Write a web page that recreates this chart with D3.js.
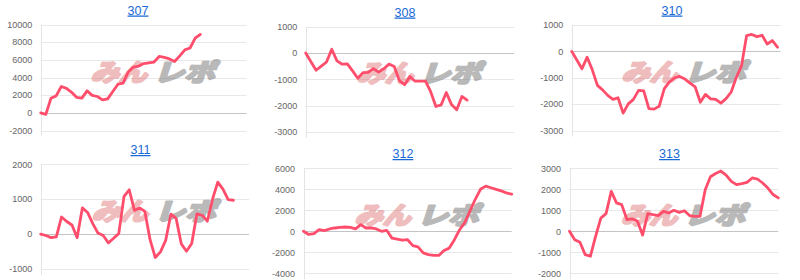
<!DOCTYPE html>
<html><head><meta charset="utf-8">
<script src="https://cdn.jsdelivr.net/npm/d3@7/dist/d3.min.js"></script>
<style>body{margin:0;background:#fff}svg{display:block}</style>
</head><body>
<svg id="chart" width="800" height="280"></svg>
<script>
// ---- data ----
const titles = ["307", "308", "310", "311", "312", "313"];

const s307 = [0, -170, 1660, 1920, 2980, 2770, 2320, 1740, 1660, 2490, 1980, 1850, 1470, 1580, 2410, 3240,
  3360, 4620, 5180, 5280, 5580, 5660, 5750, 6380, 6280, 6100, 5810, 6450, 7130, 7340, 8450, 8880];
const s308 = [0, -330, -655, -500, -340, 145, -300, -425, -415, -680, -960, -745, -735, -590, -725, -595,
  -420, -510, -1050, -1205, -890, -1070, -1070, -1070, -1470, -2030, -1975, -1500, -1960, -2155, -1650, -1790];
const s310 = [0, -330, -660, -220, -700, -1290, -1460, -1670, -1820, -1760, -2340, -1990, -1820, -1480, -1500,
  -2170, -2190, -2080, -1410, -1160, -1000, -950, -1050, -1200, -1350, -1930, -1630, -1800, -1820, -1960,
  -1790, -1540, -980, -550, 600, 640, 560, 610, 280, 410, 160];
const s311 = [0, -40, -100, -80, 490, 360, 260, -100, 750, 620, 300, 30, -40, -250, -120, 20, 1080, 1270,
  680, 750, 650, -160, -670, -510, -180, 570, 450, -280, -490, -270, 580, 540, 370, 1000, 1490, 1290, 990, 970];
const s312 = [0, -300, -230, 150, 60, 220, 315, 380, 410, 380, 230, 630, 315, 315, 220, 0, 80, -650, -750,
  -850, -800, -1360, -1480, -2050, -2220, -2300, -2300, -1820, -1600, -800, 150, 850, 1950, 3050, 4000,
  4300, 4150, 4000, 3850, 3650, 3530];
const s313 = [0, -400, -520, -1110, -1190, -240, 630, 840, 1900, 1350, 1270, 560, 590, 490, -180, 840, 790,
  750, 950, 870, 1000, 900, 980, 750, 710, 710, 1980, 2600, 2750, 2870, 2680, 2380, 2220, 2270, 2330, 2540,
  2490, 2300, 2060, 1750, 1590];

const ticks307 = [-2000, 0, 2000, 4000, 6000, 8000, 10000];
const ticks308 = [-3000, -2000, -1000, 0, 1000];
const ticks310 = [-3000, -2000, -1000, 0, 1000];
const ticks311 = [-1000, 0, 1000, 2000];
const ticks312 = [-4000, -2000, 0, 2000, 4000, 6000];
const ticks313 = [-2000, -1000, 0, 1000, 2000, 3000];

const seriesList = [s307, s308, s310, s311, s312, s313];
const tickList = [ticks307, ticks308, ticks310, ticks311, ticks312, ticks313];
const xPoints = 41; // positions on the shared horizontal axis

// ---- layout ----
const layout = [
  {ax: 40.7,  right: 246.7, top: 24.5,  bottom: 130.5, ty: 14.5, tx: 138},
  {ax: 305.7, right: 514,   top: 26.7,  bottom: 132,   ty: 16.5, tx: 405},
  {ax: 571.7, right: 777.5, top: 25,    bottom: 130.5, ty: 14.5, tx: 672},
  {ax: 40.7,  right: 249,   top: 164.3, bottom: 269,   ty: 154,  tx: 140.5},
  {ax: 303.5, right: 511.7, top: 168.3, bottom: 273.3, ty: 158,  tx: 403},
  {ax: 569.5, right: 778.3, top: 168.3, bottom: 273.3, ty: 158,  tx: 669.5}
];

const svg = d3.select("#chart");

seriesList.forEach((vals, i) => {
  const L = layout[i];
  const ticks = tickList[i];
  const g = svg.append("g");
  const x = d3.scaleLinear().domain([0, xPoints - 1]).range([L.ax, L.right]);
  const y = d3.scaleLinear().domain(d3.extent(ticks)).range([L.bottom, L.top]);

  // title
  g.append("text")
    .attr("x", L.tx).attr("y", L.ty)
    .attr("text-anchor", "middle")
    .attr("font-family", "Liberation Sans, Arial, sans-serif")
    .attr("font-size", 12.5)
    .attr("fill", "#1a6ad6")
    .attr("text-decoration", "underline")
    .text(titles[i]);

  // gridlines
  g.selectAll("line.grid").data(ticks).enter().append("line")
    .attr("x1", L.ax).attr("x2", x.range()[1] + (i === 2 ? 3 : 0))
    .attr("y1", d => Math.round(y(d)) + 0.5).attr("y2", d => Math.round(y(d)) + 0.5)
    .attr("stroke", d => d === 0 ? "#c4c4c4" : "#e8e8e8")
    .attr("stroke-width", 1);

  // left axis line
  g.append("line")
    .attr("x1", Math.round(L.ax) + 0.5).attr("x2", Math.round(L.ax) + 0.5)
    .attr("y1", L.top).attr("y2", L.bottom + 6)
    .attr("stroke", "#e4e4e4");

  // tick labels
  g.selectAll("text.tl").data(ticks).enter().append("text")
    .attr("x", L.ax - 8.5).attr("y", d => y(d) + 3.2)
    .attr("text-anchor", "end")
    .attr("font-family", "Liberation Sans, Arial, sans-serif")
    .attr("font-size", 9)
    .attr("fill", "#666")
    .text(d => d);

  // watermark
  const cx = (L.ax + L.right) / 2 + 7;
  const cy = (L.top + L.bottom) / 2 - 6;
  const wm = g.append("g").attr("transform", `translate(${cx},${cy + 9}) skewX(-18)`);
  const pink = wm.append("g").attr("opacity", 0.45);
  pink.append("text")
    .attr("x", -60).attr("y", 0)
    .attr("textLength", 56).attr("lengthAdjust", "spacingAndGlyphs")
    .attr("font-family", "Noto Sans CJK JP, sans-serif")
    .attr("font-weight", 700).attr("font-size", 24)
    .attr("fill", "#dc6e6e").attr("stroke", "#dc6e6e").attr("stroke-width", 2.6)
    .attr("stroke-linejoin", "round")
    .text("みん");
  const gray = wm.append("g").attr("opacity", 0.55);
  gray.append("text")
    .attr("x", 3).attr("y", 0)
    .attr("textLength", 61).attr("lengthAdjust", "spacingAndGlyphs")
    .attr("font-family", "Noto Sans CJK JP, sans-serif")
    .attr("font-weight", 700).attr("font-size", 24)
    .attr("fill", "#808080").attr("stroke", "#808080").attr("stroke-width", 2.6)
    .attr("stroke-linejoin", "round")
    .text("レポ");

  // line
  const line = d3.line().x((d, j) => x(j)).y(d => y(d));
  g.append("path")
    .datum(vals)
    .attr("d", line)
    .attr("fill", "none")
    .attr("stroke", "#ff4d6c")
    .attr("stroke-width", 2.8)
    .attr("stroke-linejoin", "round")
    .attr("stroke-linecap", "round");
});
</script>
</body></html>
